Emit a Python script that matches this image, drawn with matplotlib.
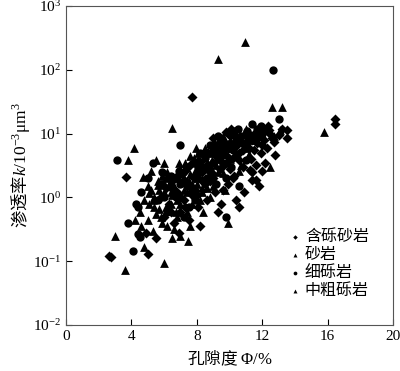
import matplotlib
matplotlib.use("Agg")
import matplotlib.pyplot as plt
import numpy as np

plt.rcParams['font.family'] = ['Liberation Serif', 'Noto Sans CJK SC']
plt.rcParams['mathtext.fontset'] = 'custom'
plt.rcParams['mathtext.rm'] = 'Liberation Serif'
plt.rcParams['mathtext.it'] = 'Liberation Serif:italic'

# ---------------------------------------------------------------------------
# Data
# ---------------------------------------------------------------------------
# 含砾砂岩 (diamonds)
hlss_x = [7.7, 9.8, 12.35, 13.5, 13.5, 12.8, 12.0, 16.45, 16.45, 3.7, 2.6, 2.75,
          5.0, 4.9, 5.5, 10.6, 11.6, 11.25, 11.4,
          6.0, 6.3, 6.6, 6.8, 7.0, 7.2, 7.4, 7.5, 7.8, 8.0, 8.1, 8.3, 8.5, 8.6,
          8.8, 9.0, 9.1, 9.2, 9.4, 9.5, 9.6, 9.8, 9.9, 10.0, 10.2, 10.3, 10.5,
          10.6, 10.8, 10.9, 11.0, 11.2, 11.3, 11.5, 11.7, 11.9, 12.1, 12.3, 12.5,
          12.7, 13.0, 13.2, 5.8, 6.5, 7.3, 8.7, 10.1, 11.4, 12.2, 9.3, 8.2, 6.9,
          10.4, 11.8,
          6.1, 6.4, 6.7, 7.0, 7.3, 7.6, 7.9, 8.2, 8.5, 8.8, 9.1, 9.4, 9.7, 10.0,
          10.3, 10.6, 10.9, 11.2, 11.5, 11.8, 12.1,
          7.1, 7.7, 8.4, 9.0, 9.6, 10.2, 10.8, 11.4, 12.0, 12.6,
          8.9, 9.3, 9.9, 10.4, 11.1, 11.6, 12.4]
hlss_y = [38, 10.4, 13, 11.2, 8.4, 4.55, 2.56, 17, 14, 2.1, 0.12, 0.115,
          0.13, 0.28, 0.23, 0.70, 1.85, 2.65, 1.85,
          0.5, 0.8, 0.4, 1.2, 0.6, 0.9, 1.5, 0.45, 2.0, 1.1, 0.7, 2.5, 1.6, 0.9,
          3.2, 2.0, 1.2, 4.5, 2.8, 0.8, 5.5, 3.5, 1.6, 7.0, 4.2, 2.2, 8.0,
          5.0, 3.0, 1.2, 9.0, 6.0, 4.0, 10.0, 7.0, 5.0, 8.0, 6.0, 10.0,
          7.5, 9.5, 12.0, 1.0, 1.8, 2.6, 5.0, 12.0, 2.5, 3.5, 0.6, 0.35, 0.28,
          0.9, 1.5,
          1.4, 0.6, 2.1, 1.0, 0.7, 3.2, 1.3, 3.6, 2.8, 1.8, 6.0, 3.8, 7.0, 2.8,
          9.0, 3.8, 6.5, 10.0, 5.5, 9.0, 11.0,
          2.3, 1.1, 4.8, 8.5, 1.3, 2.0, 5.5, 7.8, 6.5, 8.5,
          2.4, 5.0, 4.3, 6.3, 7.5, 3.2, 11.5]

# 砂岩 (triangles)
sy_x = [10.95, 9.3, 6.5, 4.16, 7.95, 3.8, 5.5, 4.7, 3.0, 3.6, 6.0, 4.8, 6.5,
        7.45, 13.1, 12.7, 12.5, 15.8,
        4.5, 4.8, 5.0, 5.2, 5.4, 5.6, 5.8, 6.0, 6.2, 6.4, 6.6, 6.8, 7.0, 7.1,
        7.3, 7.5, 7.7, 7.9, 8.1, 8.3, 8.5, 8.7, 8.9, 9.1, 9.3, 9.6, 9.8, 10.1,
        10.4, 10.7, 11.0, 11.3, 5.3, 6.2, 7.6, 8.8, 5.6, 5.1,
        5.0, 5.3, 5.7, 6.1, 6.5, 6.9, 7.2, 7.6, 8.0, 8.4, 8.8, 9.2, 9.6, 10.0,
        10.4, 5.9, 6.7, 7.4, 8.2, 9.0]
sy_y = [269, 146, 12.1, 5.9, 5.9, 3.9, 3.8, 2.1, 0.245, 0.074, 0.093, 0.165, 0.23,
        0.21, 11.2, 9.0, 2.95, 10.4,
        0.6, 0.9, 0.45, 1.3, 0.7, 1.8, 0.5, 1.2, 2.5, 0.8, 1.5, 0.5, 2.8, 1.0,
        3.5, 1.8, 0.8, 2.6, 4.0, 1.4, 6.0, 2.2, 3.8, 7.0, 2.5, 9.0, 4.8, 6.0,
        10.0, 3.2, 12.0, 8.0, 0.3, 0.35, 0.35, 1.0, 1.54, 1.15,
        1.5, 0.9, 0.65, 2.0, 1.1, 3.5, 2.0, 4.5, 2.0, 3.2, 5.0, 4.0, 6.5, 8.0,
        5.0, 0.4, 0.6, 1.2, 0.9, 1.5]

# 细砾岩 (circles)
xly_x = [12.66, 13.0, 7.0, 3.1, 5.3, 3.8, 4.1, 4.4, 4.5, 9.8, 6.36, 5.9, 4.4,
         5.6, 5.9, 6.2, 6.4, 6.7, 7.0, 7.2, 7.4, 7.7, 7.9, 8.1, 8.3, 8.5, 8.8,
         9.0, 9.2, 9.4, 9.6, 9.8, 10.0, 10.2, 10.5, 10.8, 11.1, 11.4, 11.7, 12.0,
         5.0, 4.6, 4.3, 10.6, 11.0,
         6.0, 6.5, 6.9, 7.3, 7.8, 8.2, 8.6, 9.0, 9.3, 9.7, 10.1, 10.4, 10.7,
         11.3, 11.9, 8.0, 8.8, 9.5, 10.3, 7.5]
xly_y = [98, 17, 6.5, 3.9, 3.4, 0.39, 0.143, 0.27, 0.24, 0.49, 2.0, 2.5, 0.7,
         0.9, 1.6, 0.6, 2.2, 1.0, 1.6, 0.5, 3.0, 1.3, 0.9, 3.0, 1.9, 4.2, 2.6,
         5.5, 1.6, 7.5, 3.2, 2.0, 9.5, 5.5, 12.0, 7.0, 11.0, 14.0, 12.0, 10.0,
         2.0, 1.2, 0.8, 1.5, 3.8,
         1.0, 1.4, 2.6, 1.8, 3.5, 5.0, 2.0, 3.5, 9.0, 6.0, 3.0, 7.5, 9.0,
         9.0, 13.0, 2.2, 6.5, 4.5, 11.0, 0.7]

# 中粗砾岩 (triangles)
zcly_x = [12.6, 13.2, 9.9, 7.0,
          4.2, 4.6, 5.1, 5.5, 5.7, 6.1, 6.3, 6.6, 6.9, 7.2, 7.4, 7.6, 7.8, 8.0,
          8.2, 8.4, 8.6, 8.9, 9.2, 9.5, 9.7, 10.0, 10.3, 10.6, 10.9, 11.2, 11.6,
          12.0, 6.0, 5.2,
          5.4, 5.9, 6.4, 6.8, 7.3, 7.7, 8.1, 8.6, 9.0, 9.4, 9.9, 10.5, 11.0,
          7.0, 8.3, 9.6]
zcly_y = [26, 26, 0.39, 0.245,
          0.45, 0.35, 0.8, 0.55, 1.3, 0.7, 1.6, 0.32, 2.0, 1.3, 0.6, 2.3, 4.2, 1.6,
          2.9, 0.6, 3.6, 5.2, 3.2, 6.5, 1.3, 4.0, 8.0, 2.6, 10.0, 4.8, 9.0,
          12.0, 3.5, 2.6,
          1.0, 2.2, 1.2, 0.9, 3.0, 1.6, 5.0, 1.4, 2.0, 8.0, 6.0, 4.5, 6.0,
          0.8, 1.2, 2.4]

labels = ['含砾砂岩', '砂岩', '细砾岩', '中粗砾岩']

# ---------------------------------------------------------------------------
# Plot
# ---------------------------------------------------------------------------
fig = plt.figure(figsize=(4.0, 3.71), dpi=100)
ax = fig.add_axes([0.165, 0.124, 0.8175, 0.86])

ax.scatter(hlss_x, hlss_y, marker='D', s=26, color='black', linewidths=0, label=labels[0])
ax.scatter(sy_x, sy_y, marker='^', s=40, color='black', linewidths=0, label=labels[1])
ax.scatter(xly_x, xly_y, marker='o', s=36, color='black', linewidths=0, label=labels[2])
ax.scatter(zcly_x, zcly_y, marker='^', s=40, color='black', linewidths=0, label=labels[3])

ax.set_yscale('log')
ax.set_xlim(0, 20)
ax.set_ylim(1e-2, 1e3)
ax.set_xticks([0, 4, 8, 12, 16, 20])
ax.yaxis.set_minor_locator(matplotlib.ticker.NullLocator())
ax.tick_params(direction='in', length=4, labelsize=11, colors='black')
for sp in ax.spines.values():
    sp.set_color('#555555')

ax.set_xlabel(r'孔隙度 $\Phi\mathrm{/\%}$', fontfamily='Noto Sans CJK SC', fontsize=12)
ax.set_ylabel(r'渗透率$k\mathrm{/10^{-3}μm^{3}}$', fontfamily='Noto Sans CJK SC', fontsize=12.5,
              labelpad=1)

ax.legend(loc='lower left', bbox_to_anchor=(0.655, 0.057), frameon=False, borderpad=0,
          markerscale=0.45, handletextpad=0.25, labelspacing=0.05, handlelength=0.8,
          prop={'family': 'Noto Sans CJK SC', 'size': 11.5})

fig.savefig('out.png', dpi=100)
